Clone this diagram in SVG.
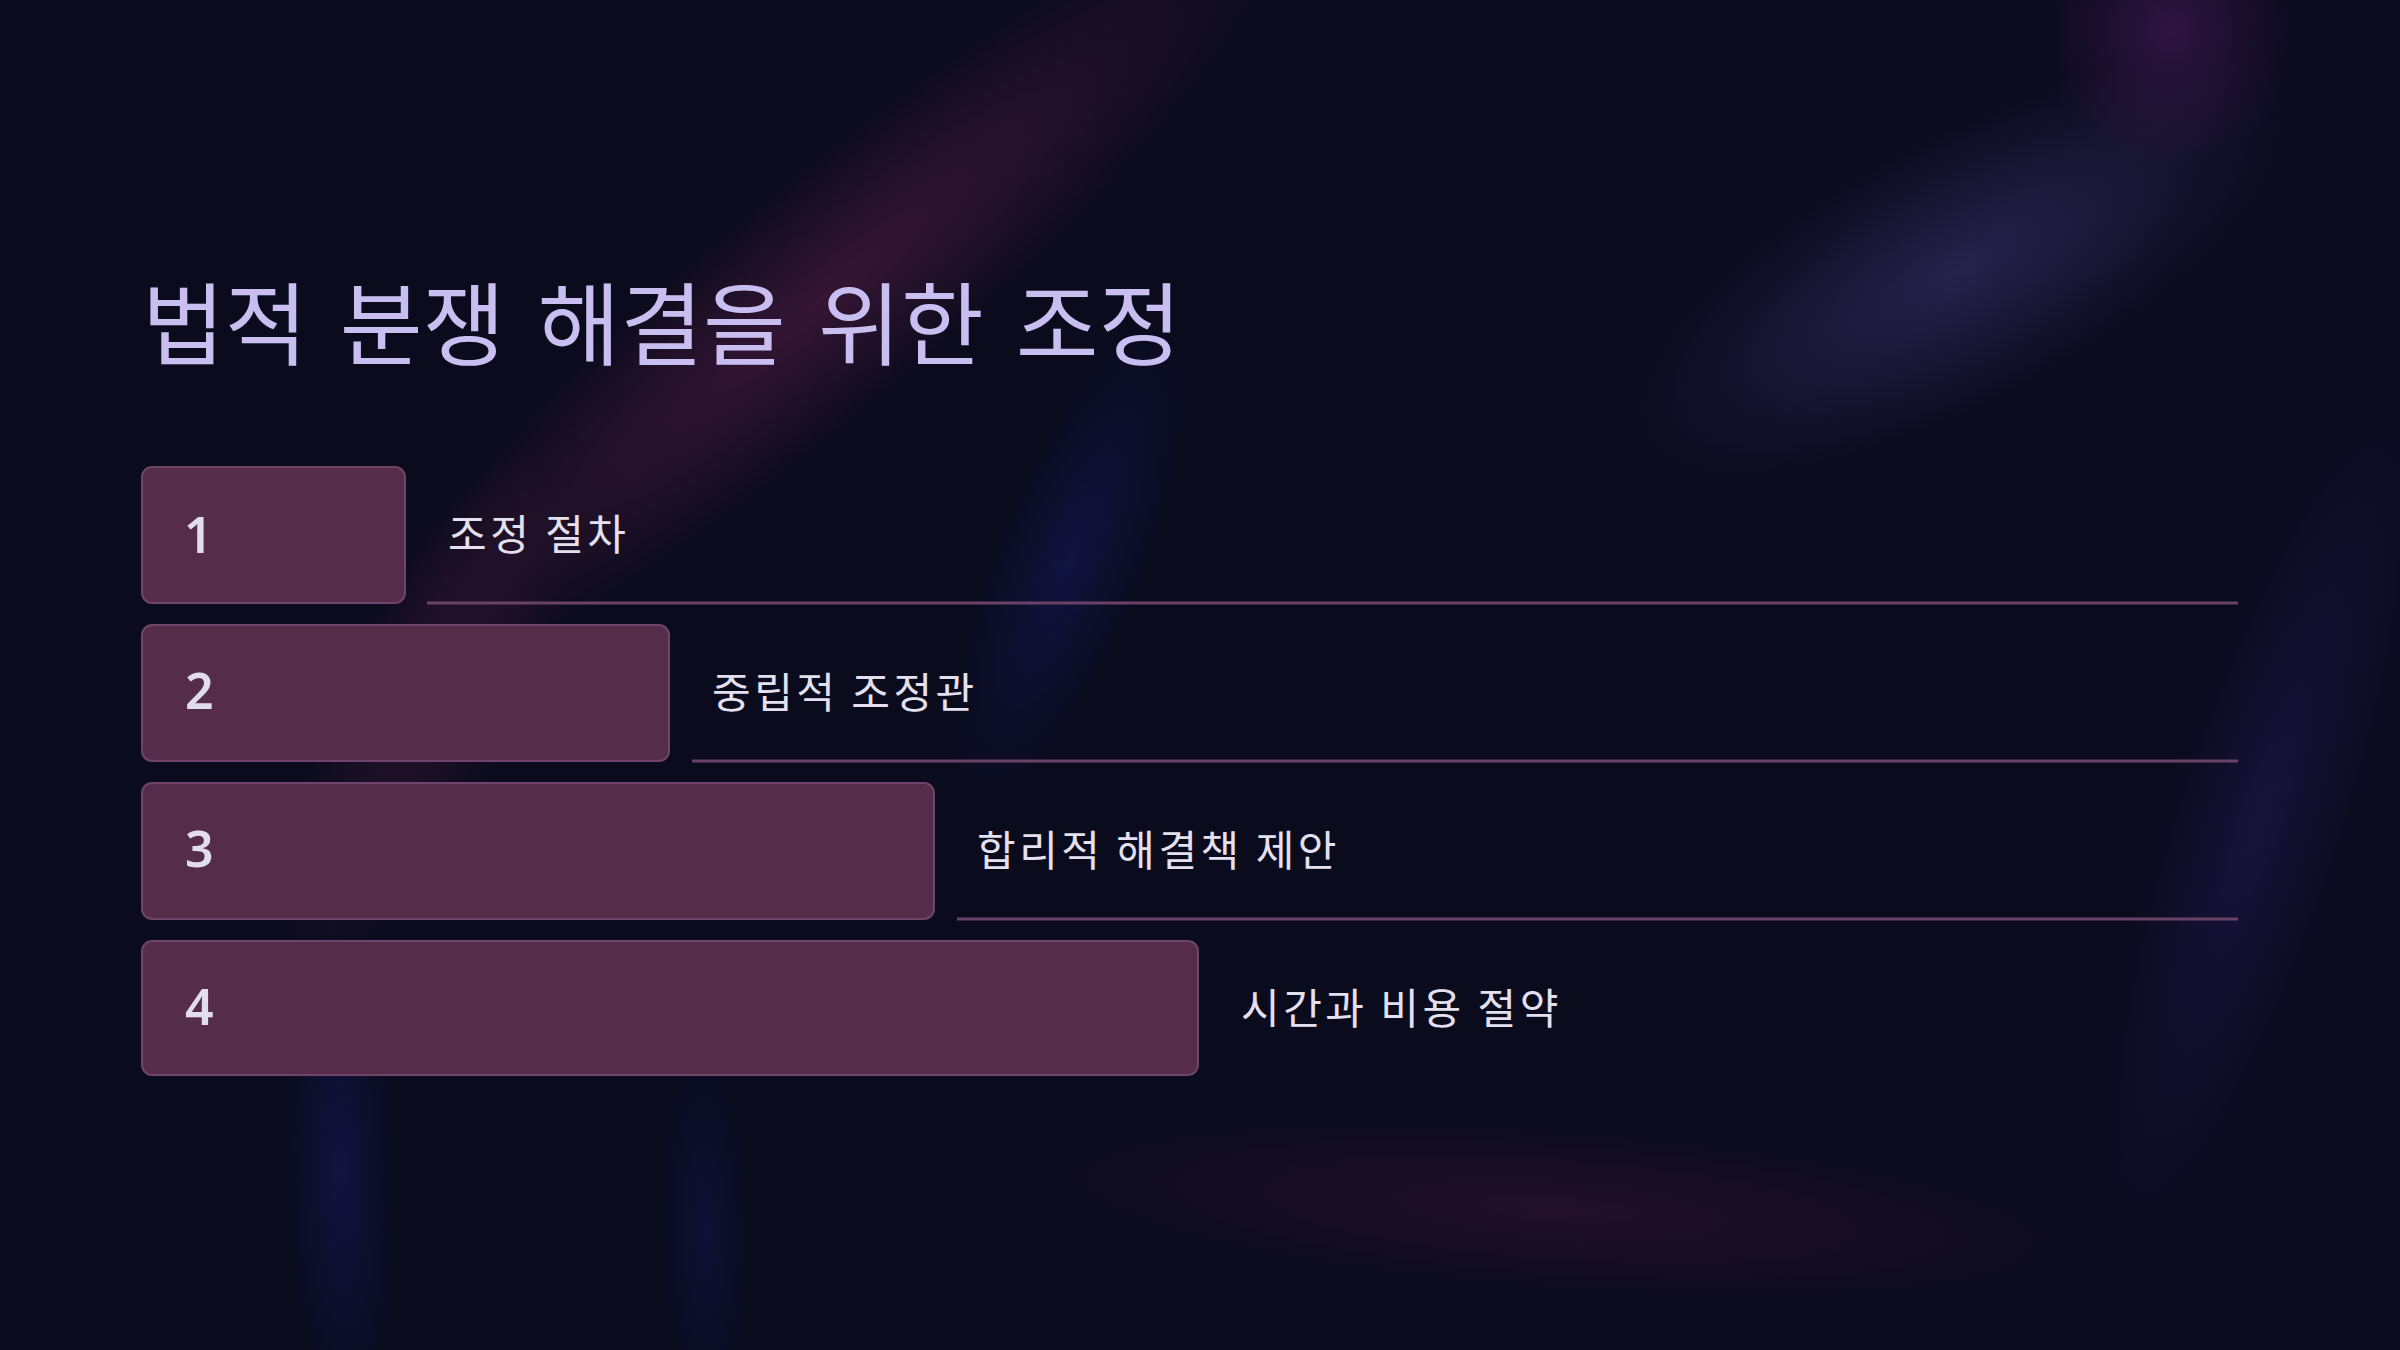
<svg xmlns="http://www.w3.org/2000/svg" width="2400" height="1350" viewBox="0 0 2400 1350">
<defs>
<radialGradient id="gMag"><stop offset="0" stop-color="#3c1738" stop-opacity="0.85"/><stop offset="0.5" stop-color="#3c1738" stop-opacity="0.45"/><stop offset="1" stop-color="#3c1738" stop-opacity="0"/></radialGradient>
<radialGradient id="gLav"><stop offset="0" stop-color="#2a2452" stop-opacity="0.9"/><stop offset="0.5" stop-color="#2a2452" stop-opacity="0.45"/><stop offset="1" stop-color="#2a2452" stop-opacity="0"/></radialGradient>
<radialGradient id="gBlue"><stop offset="0" stop-color="#121548" stop-opacity="0.85"/><stop offset="0.5" stop-color="#121548" stop-opacity="0.4"/><stop offset="1" stop-color="#121548" stop-opacity="0"/></radialGradient>
<radialGradient id="gInd"><stop offset="0" stop-color="#18143e" stop-opacity="0.9"/><stop offset="0.5" stop-color="#18143e" stop-opacity="0.45"/><stop offset="1" stop-color="#18143e" stop-opacity="0"/></radialGradient>
<radialGradient id="gWine"><stop offset="0" stop-color="#28112c" stop-opacity="0.8"/><stop offset="0.5" stop-color="#28112c" stop-opacity="0.4"/><stop offset="1" stop-color="#28112c" stop-opacity="0"/></radialGradient>
<radialGradient id="gPur"><stop offset="0" stop-color="#331545" stop-opacity="0.9"/><stop offset="1" stop-color="#331545" stop-opacity="0"/></radialGradient>
<style>
.box{fill:#552d4b;stroke:#6f4468;stroke-width:2}
.num{font-family:"Noto Sans","Noto Sans CJK KR",sans-serif;font-size:50px;font-weight:600;fill:#e2dcef}
.lbl{font-family:"Noto Sans CJK KR","Noto Sans",sans-serif;font-size:42px;letter-spacing:3.5px;fill:#e4e0ef}
.rule{stroke:#6b4266;stroke-width:3}
.title{font-family:"Noto Sans CJK KR","Noto Sans",sans-serif;font-size:90px;word-spacing:12px;fill:#c8bff0}
</style>
</defs>
<g id="background">
<rect width="2400" height="1350" fill="#0a0b1c"/>
<ellipse cx="820" cy="300" rx="620" ry="120" fill="url(#gMag)" transform="rotate(-40 820 300)"/>
<ellipse cx="420" cy="720" rx="300" ry="90" fill="url(#gMag)" transform="rotate(-65 420 720)" opacity="0.6"/>
<ellipse cx="1960" cy="270" rx="380" ry="140" fill="url(#gLav)" transform="rotate(-28 1960 270)"/>
<ellipse cx="1070" cy="560" rx="260" ry="80" fill="url(#gBlue)" transform="rotate(-68 1070 560)"/>
<ellipse cx="2260" cy="820" rx="480" ry="100" fill="url(#gInd)" transform="rotate(-72 2260 820)"/>
<ellipse cx="1560" cy="1210" rx="560" ry="90" fill="url(#gWine)" transform="rotate(4 1560 1210)"/>
<ellipse cx="340" cy="1170" rx="260" ry="60" fill="url(#gBlue)" transform="rotate(88 340 1170)"/>
<ellipse cx="705" cy="1230" rx="190" ry="50" fill="url(#gBlue)" transform="rotate(89 705 1230)" opacity="0.7"/>
<ellipse cx="2170" cy="30" rx="130" ry="140" fill="url(#gPur)"/>
</g>
<g id="title"><text class="title" x="142" y="358">법적 분쟁 해결을 위한 조정</text></g>
<g id="connectors">
<line class="rule" x1="427" y1="603" x2="2238" y2="603"/>
<line class="rule" x1="692" y1="761" x2="2238" y2="761"/>
<line class="rule" x1="957" y1="919" x2="2238" y2="919"/>
</g>
<g id="node1"><rect class="box" x="142" y="467" width="263" height="136" rx="10"/><text class="num" x="184" y="553">1</text><text class="lbl" x="448" y="550">조정 절차</text></g>
<g id="node2"><rect class="box" x="142" y="625" width="527" height="136" rx="10"/><text class="num" x="185" y="709">2</text><text class="lbl" x="712" y="708">중립적 조정관</text></g>
<g id="node3"><rect class="box" x="142" y="783" width="792" height="136" rx="10"/><text class="num" x="185" y="867">3</text><text class="lbl" x="977" y="866">합리적 해결책 제안</text></g>
<g id="node4"><rect class="box" x="142" y="941" width="1056" height="134" rx="10"/><text class="num" x="185" y="1025">4</text><text class="lbl" x="1241" y="1024">시간과 비용 절약</text></g>
</svg>
